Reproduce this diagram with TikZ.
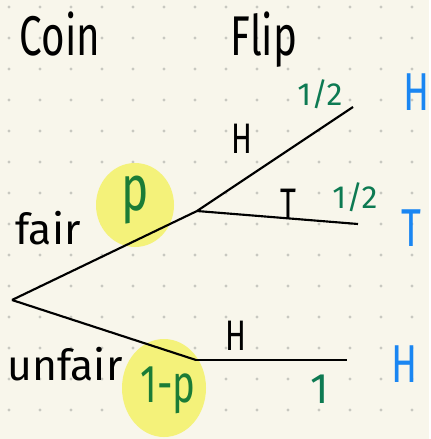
\documentclass[tikz,border=0pt]{standalone}
\usepackage{fontspec}
\setmainfont{Fira Sans}
\usepackage{graphicx}
\definecolor{paper}{HTML}{F8F6EB}
\definecolor{griddot}{HTML}{C8C8C0}
\definecolor{marker}{HTML}{F4F27A}
\definecolor{pgreen}{HTML}{1B7C36}
\definecolor{halfgreen}{HTML}{0D7A52}
\definecolor{flipblue}{HTML}{1A86F2}
\newcommand{\narrow}[1]{\scalebox{0.72}[1]{#1}}
\tikzset{
  branch/.style ={line width=1.6pt, black},
  glow/.style   ={fill=marker, draw=none},
  head/.style   ={inner sep=0pt, text=black, font=\fontsize{42}{44}\selectfont},
  ink/.style    ={inner sep=0pt, text=black, font=\fontsize{32}{34}\selectfont},
  prob/.style   ={inner sep=0pt, text=pgreen, font=\fontsize{40}{42}\selectfont},
  half/.style   ={inner sep=0pt, text=halfgreen, font=\fontsize{24}{26}\selectfont},
  outcome/.style={inner sep=0pt, text=flipblue, font=\fontsize{40}{42}\selectfont},
}

\begin{document}
\begin{tikzpicture}[x=0.75pt, y=-0.75pt]
  % paper and dot grid
  \fill[paper] (0,0) rectangle (429,439);
  \foreach \i in {0,...,13}
    \foreach \j in {0,...,13}
      \fill[griddot] (9+31*\i, 7+31*\j) circle (1.3pt);

  % highlights
  \fill[glow] (135,205) ellipse (39 and 42);
  \fill[glow] (164,388) ellipse (42 and 49);

  % tree points
  \coordinate (root)   at (12,300);
  \coordinate (fair)   at (197,211);
  \coordinate (unfair) at (196,360);
  \coordinate (fairH)  at (353,107);
  \coordinate (fairT)  at (358,224);
  \coordinate (unfH)   at (347,360);

  \draw[branch] (root) -- (fair);
  \draw[branch] (root) -- (unfair);
  \draw[branch] (fair) -- (fairH);
  \draw[branch] (fair) -- (fairT);
  \draw[branch] (unfair) -- (unfH);

  % column heads
  \node[head] (coin) at (60,34)  {\narrow{Coin}};
  \node[head] (flip) at (264,40) {\narrow{Flip}};

  % coin branch labels
  \node[ink]  (lfair)   at (48,228)  {fair};
  \node[ink]  (lunfair) at (65,364)  {unfair};
  \node[prob] (pfair)   at (135,200) {\fontsize{48}{50}\selectfont\narrow{p}};
  \node[prob] (punfair) at (168,390) {\narrow{1-p}};

  % flip branch labels
  \node[ink]  (lH1) at (242,139) {\narrow{H}};
  \node[ink]  (lT)  at (288,204) {\narrow{T}};
  \node[ink]  (lH2) at (236,336) {\narrow{H}};
  \node[half] (h1)  at (320,94)  {1/2};
  \node[half] (h2)  at (355,197) {1/2};
  \node[half] (one) at (320,389) {\fontsize{32}{34}\selectfont 1};

  % outcomes
  \node[outcome] (oH1) at (417,92)  {\narrow{H}};
  \node[outcome] (oT)  at (411,228) {\narrow{T}};
  \node[outcome] (oH2) at (405,364) {\narrow{H}};
\end{tikzpicture}
\end{document}
